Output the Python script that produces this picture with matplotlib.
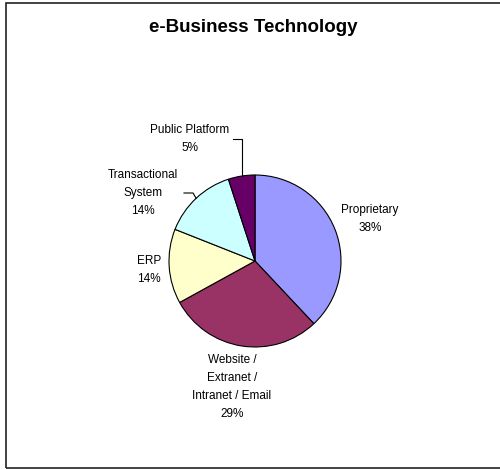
import numpy as np
import matplotlib.pyplot as plt
from matplotlib.patches import Rectangle

plt.rcParams['font.family'] = ['Liberation Sans', 'DejaVu Sans']

# slice data, clockwise from 12 o'clock
categories = ['Proprietary', 'Website /\nExtranet /\nIntranet / Email', 'ERP',
              'Transactional\nSystem', 'Public Platform']
shares = [38, 29, 14, 14, 5]
colors = ['#9999FF', '#993366', '#FFFFCC', '#CCFFFF', '#660066']

# label placement in pixels (x, y from top); leaders: start x, elbow x (None = straight down)
label_pos = [(370, 219), (232, 387), (149, 270), (143, 193), (190, 139)]
leader_start = [None, None, None, 184, 233]
leader_elbow = [None, None, None, 193, None]

W, H = 500, 469
cx, cy, r = 255, 261, 86


def flip(y):
    return H - y


fig = plt.figure(figsize=(W / 100, H / 100), dpi=100)
ax = fig.add_axes([0, 0, 1, 1])

wedges, _ = ax.pie(shares, colors=colors, startangle=90, counterclock=False,
                   center=(cx, flip(cy)), radius=r,
                   wedgeprops=dict(edgecolor='black', linewidth=0.8))

ax.set_xlim(0, W)
ax.set_ylim(0, H)
ax.set_aspect('equal')
ax.axis('off')

for i, (w, name, val) in enumerate(zip(wedges, categories, shares)):
    x, y = label_pos[i]
    ax.text(x, flip(y), f'{name}\n{val}%', ha='center', va='center',
            fontsize=8.5, linespacing=1.65)
    if leader_start[i] is not None:
        mid = np.deg2rad((w.theta1 + w.theta2) / 2)
        ex = cx + r * np.cos(mid)
        ey = flip(cy) + r * np.sin(mid)
        elbow = leader_elbow[i] if leader_elbow[i] is not None else ex
        ly = flip(y)
        ax.plot([leader_start[i], elbow, ex], [ly, ly, ey],
                color='black', lw=0.8)

fig.text(253 / W, 1 - 28 / H, 'e-Business Technology', ha='center', va='center',
         fontsize=13.5, fontweight='bold')

# outer chart-area border (runs off the right edge)
fig.patches.append(Rectangle((5.5 / W, 1.5 / H), 1.2, 466 / H - 1.5 / H,
                             transform=fig.transFigure, fill=False,
                             edgecolor='#222222', linewidth=1.2))

fig.savefig('out.png', dpi=100)
